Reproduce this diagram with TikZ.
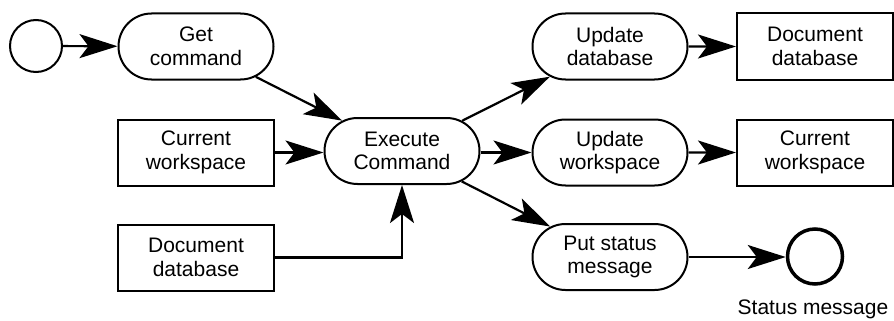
\documentclass[tikz,border=0pt]{standalone}
\usepackage{fontspec}
\setmainfont{Liberation Sans}
\usetikzlibrary{shapes.misc,arrows.meta}

\tikzset{
  activity/.style={draw, line width=2pt, rounded rectangle, minimum width=155pt,
    minimum height=66pt, inner sep=0pt, align=center},
  store/.style={draw, line width=2pt, rectangle, minimum width=156pt,
    minimum height=66pt, inner sep=0pt, align=center},
  startnode/.style={draw, line width=2pt, circle, minimum size=52pt, inner sep=0pt},
  endnode/.style={draw, line width=3.5pt, circle, minimum size=55pt, inner sep=0pt},
  flowtip/.tip={Stealth[length=38pt 0 0, width=24pt 0 0, inset=9pt 0 0]},
  flow/.style={line width=2.2pt, -flowtip},
}

\begin{document}
\begin{tikzpicture}[x=1pt, y=-1pt,
    every node/.style={font=\fontsize{21}{23.5}\selectfont}]
  \useasboundingbox (0,0) rectangle (894,321);

  % initial state and inputs
  \node[startnode] (start) at (36,46) {};
  \node[activity] (get) at (196,46.5) {Get\\command};
  \node[store] (curwsin) at (196,152.5) {Current\\workspace};
  \node[store] (docdbin) at (196,257.5) {Document\\database};

  % central activity
  \node[activity] (exec) at (402,151) {Execute\\Command};

  % outgoing activities
  \node[activity] (upddb) at (610,46.5) {Update\\database};
  \node[activity] (updws) at (610,152.5) {Update\\workspace};
  \node[activity] (status) at (610,257) {Put status\\message};

  % outputs
  \node[store] (docdbout) at (815,46.5) {Document\\database};
  \node[store] (curwsout) at (815,152.5) {Current\\workspace};
  \node[endnode] (fin) at (815,256.5) {};
  \node (finlabel) at (813,309) {Status message};

  % flows
  \draw[flow] (start) -- (get);
  \draw[flow] (get) -- (exec);
  \draw[flow] (curwsin.east) -- (exec.west |- curwsin.east);
  \draw[flow] (docdbin.east) -| (exec.south);
  \draw[flow] (exec) -- (upddb);
  \draw[flow] (exec.east |- updws.west) -- (updws.west);
  \draw[flow] (exec) -- (status);
  \draw[flow] (upddb) -- (docdbout);
  \draw[flow] (updws) -- (curwsout);
  \draw[flow] (status.east) -- (fin.west |- status.east);
\end{tikzpicture}
\end{document}
